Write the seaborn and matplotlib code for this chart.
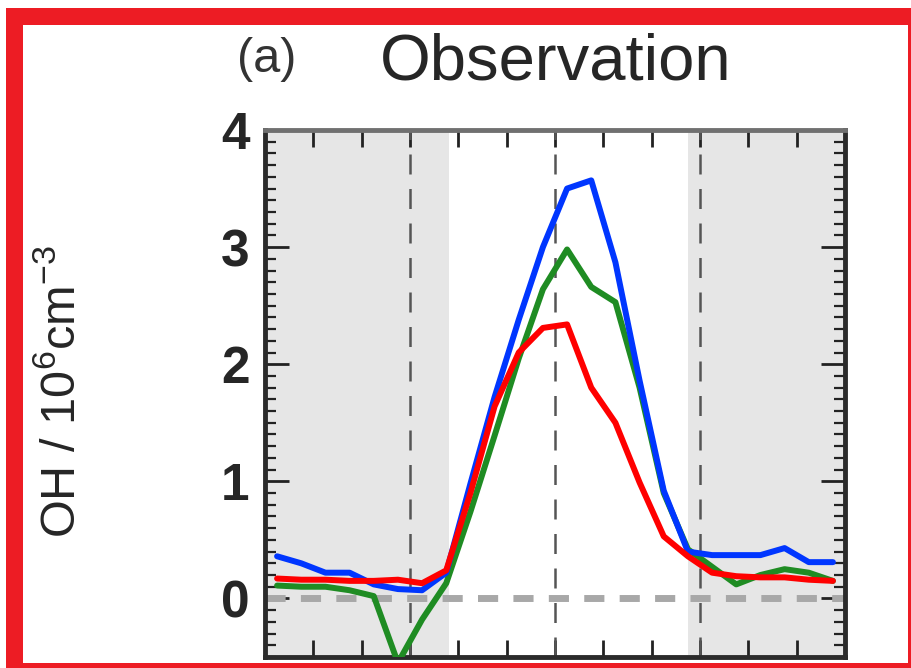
import numpy as np
import pandas as pd
import seaborn as sns
import matplotlib.pyplot as plt
from matplotlib.patches import Rectangle
from matplotlib.ticker import MultipleLocator

# hourly means (local time, hour midpoints)
hours = [h + 0.5 for h in range(24)]
oh_blue = [0.36, 0.30, 0.22, 0.22, 0.12, 0.08, 0.07, 0.22, 0.98, 1.72, 2.38, 3.00,
           3.50, 3.57, 2.87, 1.86, 0.92, 0.40, 0.37, 0.37, 0.37, 0.43, 0.31, 0.31]
oh_green = [0.11, 0.10, 0.10, 0.07, 0.02, -0.55, -0.18, 0.13, 0.74, 1.39, 2.05, 2.64,
            2.98, 2.66, 2.53, 1.80, 0.90, 0.42, 0.27, 0.12, 0.20, 0.25, 0.22, 0.15]
oh_red = [0.17, 0.16, 0.16, 0.15, 0.15, 0.16, 0.13, 0.24, 0.90, 1.64, 2.10, 2.31,
          2.34, 1.80, 1.50, 0.99, 0.53, 0.36, 0.22, 0.19, 0.18, 0.18, 0.16, 0.15]
night = [(0, 7.6), (17.5, 24)]
markers_x = [6, 12, 18]

df = pd.concat([
    pd.DataFrame({"hour": hours, "OH": oh_green, "series": "green"}),
    pd.DataFrame({"hour": hours, "OH": oh_blue, "series": "blue"}),
    pd.DataFrame({"hour": hours, "OH": oh_red, "series": "red"}),
])
palette = {"green": "#1f8c23", "blue": "#0036ff", "red": "#ff0000"}

sns.set_style("ticks")
plt.rcParams["font.family"] = ["Liberation Sans", "DejaVu Sans"]
plt.rcParams["mathtext.fontset"] = "custom"
plt.rcParams["mathtext.rm"] = "Liberation Sans"
plt.rcParams["mathtext.it"] = "Liberation Sans"

W, H = 912, 668
fig = plt.figure(figsize=(W / 100, H / 100), dpi=100)
ax = fig.add_axes([265 / W, 11 / H, 580 / W, 527 / H])

for a, b in night:
    ax.axvspan(a, b, color="#e6e6e6", lw=0, zorder=0)
ax.axhline(0, color="#a8a8a8", lw=5, linestyle=(0, (2.9, 2.2)), zorder=1)
for xv in markers_x:
    ax.axvline(xv, color="#555555", lw=1.8, linestyle=(0, (8, 5.8)), zorder=1)

sns.lineplot(data=df, x="hour", y="OH", hue="series", palette=palette,
             linewidth=4.3, legend=False, ax=ax, zorder=3)

ax.set_xlim(0, 24)
ax.set_ylim(-0.5, 4)
ax.set_xticks(range(0, 25, 2))
ax.set_xticklabels([])
ax.set_yticks([0, 1, 2, 3, 4])
ax.yaxis.set_minor_locator(MultipleLocator(0.1))
ax.set_xlabel("")
ax.set_ylabel("")
ax.tick_params(axis="x", direction="in", top=True, bottom=True, length=12, width=2, color="#222222")
ax.tick_params(axis="y", which="major", direction="in", left=True, right=True, length=17,
               width=2, color="#222222", labelsize=37, pad=11)
ax.tick_params(axis="y", which="minor", direction="in", left=True, right=True, length=8,
               width=1.6, color="#222222")
for lab in ax.get_yticklabels():
    lab.set_fontweight("bold")
for side, sp in ax.spines.items():
    sp.set_linewidth(3.5)
    sp.set_color("#2b2b2b")
ax.spines["top"].set_color("#707070")

fig.text(62 / W, 1 - 392 / H, r"OH / 10$^{6}$cm$^{-3}$", rotation=90,
         ha="center", va="center", fontsize=35)
fig.text(237 / W, 1 - 72 / H, "(a)", fontsize=35, color="#333333", va="baseline")
fig.text(380 / W, 1 - 80 / H, "Observation", fontsize=47, va="baseline")

# red frame around the panel (pixel boxes: x0, y0 from top, x1, y1)
frame = [(6, 8, 912, 25), (6, 8, 23, 668), (908, 8, 912, 668), (6, 663, 912, 668)]
for x0, y0, x1, y1 in frame:
    fig.patches.append(Rectangle((x0 / W, 1 - y1 / H), (x1 - x0) / W, (y1 - y0) / H,
                                 transform=fig.transFigure, color="#ed1c24", lw=0))

fig.savefig("out.png", dpi=100)
